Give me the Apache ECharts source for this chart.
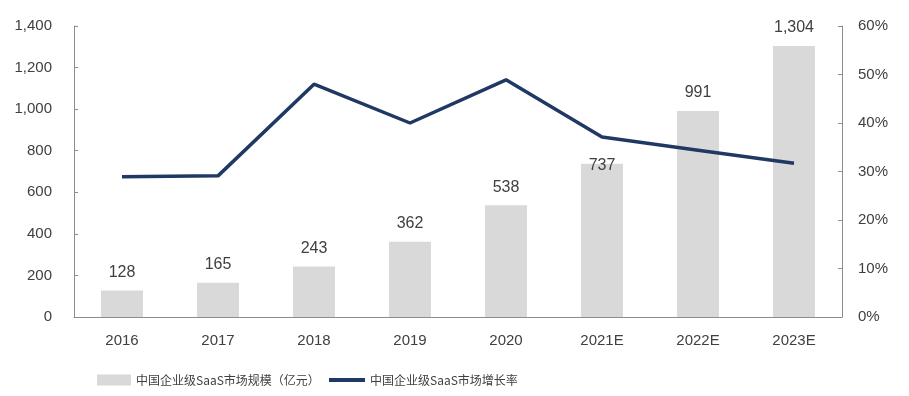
<!DOCTYPE html>
<html><head><meta charset="utf-8">
<script src="https://cdn.jsdelivr.net/npm/echarts@6/dist/echarts.min.js"></script>
<style>html,body{margin:0;padding:0;background:#fff}#c{width:909px;height:396px}</style>
</head><body><div id="c"></div>
<script>
const categories = ['2016','2017','2018','2019','2020','2021E','2022E','2023E'];
const marketSize = [128,165,243,362,538,737,991,1304];
const growthRate = [28.9,29.1,48.0,40.0,48.9,37.1,34.4,31.7];
const leftTicks = [0,200,400,600,800,1000,1200,1400];
const rightTicks = ['0%','10%','20%','30%','40%','50%','60%'];
const barName = '中国企业级SaaS市场规模（亿元）';
const lineName = '中国企业级SaaS市场增长率';

const txt = '#404040';
const axisCol = '#8c8c8c';
const chart = echarts.init(document.getElementById('c'));
chart.setOption({
  animation:false,
  textStyle:{fontFamily:'Liberation Sans, Arial, sans-serif'},
  grid:{left:74,right:67,top:26,bottom:79},
  legend:[
    {data:[barName],left:92,top:369,itemWidth:34,itemHeight:11,icon:'rect',
     textStyle:{fontFamily:'Noto Sans CJK SC',fontSize:12,color:txt}},
    {data:[{name:lineName,icon:'rect'}],left:324,top:369,itemWidth:36,itemHeight:4,
     textStyle:{fontFamily:'Noto Sans CJK SC',fontSize:12,color:txt}}
  ],
  xAxis:{type:'category',data:categories,
    axisLine:{lineStyle:{color:axisCol,width:1}},
    axisTick:{inside:true,length:5,lineStyle:{color:axisCol}},
    axisLabel:{color:txt,fontSize:15,margin:16}},
  yAxis:[
    {type:'value',min:0,max:1400,interval:200,
     axisLine:{show:true,lineStyle:{color:axisCol}},
     axisTick:{show:true,inside:true,length:4,lineStyle:{color:axisCol}},
     splitLine:{show:false},
     axisLabel:{color:txt,fontSize:15,margin:22,
       formatter:v=>v.toLocaleString('en-US')}},
    {type:'value',min:0,max:60,interval:10,position:'right',
     axisLine:{show:true,lineStyle:{color:axisCol}},
     axisTick:{show:true,inside:true,length:4,lineStyle:{color:axisCol}},
     splitLine:{show:false},
     axisLabel:{color:txt,fontSize:15,margin:16,formatter:v=>v+'%'}}
  ],
  series:[
    {name:barName,type:'bar',yAxisIndex:0,barWidth:42,
     itemStyle:{color:'#d9d9d9'},
     data:marketSize.map((v,i)=> i===5 ? {value:v,label:{offset:[0,20]}} : v),
     label:{show:true,position:'top',distance:10,color:txt,fontSize:16,
       formatter:p=>p.value.toLocaleString('en-US')}},
    {name:lineName,type:'line',yAxisIndex:1,data:growthRate,
     symbol:'none',lineStyle:{color:'#1f3864',width:3.5},itemStyle:{color:'#1f3864'}}
  ]
});
</script></body></html>
